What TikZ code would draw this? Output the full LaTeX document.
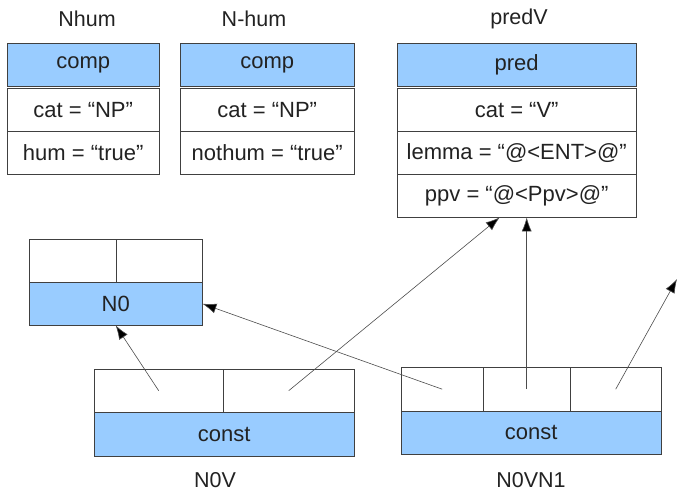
\documentclass[tikz,border=0pt]{standalone}
\usepackage{fontspec}
\setmainfont{Liberation Sans}
\usetikzlibrary{arrows.meta}
\definecolor{headblue}{RGB}{153,204,255}
\definecolor{inkgray}{RGB}{34,34,34}
\tikzset{
  cell/.style={draw=black!75, fill=white, anchor=north west, inner sep=0pt,
    minimum height=43pt, text=inkgray, font=\fontsize{22}{24}\selectfont},
  headcell/.style={cell, fill=headblue},
  title/.style={inner sep=0pt, text=inkgray, font=\fontsize{21.5}{24}\selectfont},
  link/.style={draw=black!70, line width=0.6pt, -{Latex[length=14pt,width=10pt,fill=black]}}
}
\begin{document}
\begin{tikzpicture}[x=1pt, y=-1pt]
  \useasboundingbox (0,0) rectangle (677,491);
  % feature structures
  \node[title] (nhum) at (87,19) {Nhum};
  \node[headcell, minimum width=152pt] (nhumhead) at (7,43) {comp};
  \node[cell, minimum width=152pt] (nhumcat) at (7,88) {cat = “NP”};
  \node[cell, minimum width=152pt] (nhumval) at (7,131) {hum = “true”};

  \node[title] (nnothum) at (254,19) {N-hum};
  \node[headcell, minimum width=174pt] (nnothumhead) at (180,43) {comp};
  \node[cell, minimum width=174pt] (nnothumcat) at (180,88) {cat = “NP”};
  \node[cell, minimum width=174pt] (nnothumval) at (180,131) {nothum = “true”};

  \node[title] (predv) at (519,19) {predV};
  \node[headcell, minimum width=239pt] (predhead) at (397,43) {pred};
  \node[cell, minimum width=239pt] (predcat) at (397,88) {cat = “V”};
  \node[cell, minimum width=239pt] (predlemma) at (397,131) {lemma = “@<ENT>@”};
  \node[cell, minimum width=239pt] (predppv) at (397,174) {ppv = “@<Ppv>@”};

  % N0
  \node[cell, minimum width=87pt] (nzeroa) at (29,239) {};
  \node[cell, minimum width=86pt] (nzerob) at (116,239) {};
  \node[headcell, minimum width=173pt] (nzerohead) at (29,282) {N0};

  % N0V
  \node[cell, minimum width=129pt] (nva) at (94,369) {};
  \node[cell, minimum width=131pt] (nvb) at (223,369) {};
  \node[headcell, minimum width=260pt, minimum height=44pt] (nvhead) at (94,412) {const};
  \node[title] (nvlabel) at (215,480) {N0V};

  % N0VN1
  \node[cell, minimum width=82pt, minimum height=44pt] (nvna) at (401,367) {};
  \node[cell, minimum width=87pt, minimum height=44pt] (nvnb) at (483,367) {};
  \node[cell, minimum width=91pt, minimum height=44pt] (nvnc) at (570,367) {};
  \node[headcell, minimum width=260pt] (nvnhead) at (401,411) {const};
  \node[title] (nvnlabel) at (531,480) {N0VN1};

  \coordinate (offright) at (677,279);

  % links
  \draw[link] (nva.center) -- (nzerohead.south);
  \draw[link] (nvb.center) -- ([xshift=-17pt]predppv.south);
  \draw[link] (nvna.center) -- (nzerohead.east);
  \draw[link] (nvnb.center) -- (nvnb.center |- predppv.south);
  \draw[link] (nvnc.center) -- (offright);
\end{tikzpicture}
\end{document}
